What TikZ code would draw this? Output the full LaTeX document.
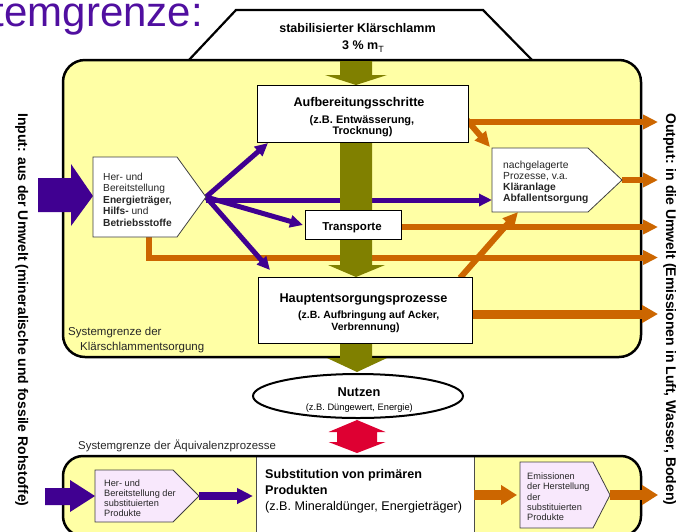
\documentclass[tikz,border=0pt]{standalone}
\usepackage{fontspec}
\setmainfont{Liberation Sans}
\usetikzlibrary{arrows.meta,calc,shapes.geometric}
\definecolor{purp}{RGB}{64,0,145}
\definecolor{titlep}{RGB}{80,15,160}
\definecolor{orng}{RGB}{204,102,0}
\definecolor{olv}{RGB}{128,128,0}
\definecolor{crim}{RGB}{222,0,50}
\definecolor{yel}{RGB}{255,255,165}
\definecolor{lav}{RGB}{248,232,252}
\newcommand\fs[2]{\fontsize{#1}{#2}\selectfont}
\tikzset{
  parr/.style={draw=purp, line width=5pt, -{Triangle[width=12pt,length=13pt]}},
  oarr/.style={draw=orng, line width=6pt, -{Triangle[width=14pt,length=15pt]}},
  procbox/.style={draw=black, line width=0.9pt, fill=white, inner sep=0, outer sep=0},
  pent/.style={draw=black!75, line width=0.8pt},
  txt/.style={inner sep=0, anchor=base},
  ltxt/.style={inner sep=0, anchor=base west},
  frame/.style={line width=2.5pt, draw=black},
}
\begin{document}
\begin{tikzpicture}[x=1pt,y=-1pt]
\useasboundingbox (0,0) rectangle (676,531);
\clip (0,0) rectangle (676,531);

% title (cut at the left edge, as in the reference)
\node[ltxt, anchor=base east, text=titlep, font=\fs{42}{46}] (title) at (203,26) {Systemgrenze:};

% trapezoid
\draw[line width=2.2pt, fill=white, line join=miter] (188,61) -- (236,10) -- (483,10) -- (533,61);

% main system box
\fill[yel, rounded corners=22pt] (63,60) rectangle (641,357);
\draw[frame, rounded corners=22pt] (63,60) rectangle (641,357);

% bottom box
\fill[yel, rounded corners=20pt] (63,456) rectangle (641,536);
\draw[draw=black!70, fill=white, line width=0.8pt] (256,456) rectangle (474,540);
\draw[frame, rounded corners=20pt] (63,456) rectangle (641,536);

% coordinates
\coordinate (ptip) at (206,197);
\coordinate (pbot) at (149,236);
\coordinate (ntip) at (622,180);

% orange output lines
\draw[oarr] (468,122) -- (658,122);
\draw[oarr] (466,119) -- (490,147);
\draw[oarr] (ntip) -- (658,180);
\draw[oarr] (401,227) -- (658,227);
\draw[oarr, line join=miter] (pbot) |- (658,257.5);
\draw[oarr] (460,278) -- (518,212);
\draw[draw=orng, line width=9pt, -{Triangle[width=17pt,length=16pt]}] (472,314) -- (658,314);

% purple input arrows
\fill[purp] (38,178) -- (71,178) -- (71,164) -- (93,196) -- (71,226) -- (71,212) -- (38,212) -- cycle;
\draw[parr] (ptip) -- (268,143);
\draw[parr] (206,200) -- (492,200);
\draw[parr] (ptip) -- (303,225);
\draw[parr] (ptip) -- (270,270);

% olive main flow
\fill[olv] (340,61) -- (340,75) -- (325,75) -- (356,85) -- (387,75) -- (372,75) -- (372,61) -- cycle;
\fill[olv] (340,142) -- (340,265) -- (328,265) -- (356,277) -- (385,265) -- (372,265) -- (372,142) -- cycle;
\fill[olv] (340,343) -- (340,358) -- (327,358) -- (357,372) -- (387,358) -- (372,358) -- (372,343) -- cycle;

% process boxes
\node[procbox, minimum width=211pt, minimum height=57pt] (aufb) at (362.5,113.5) {};
\node[procbox, minimum width=96pt, minimum height=29pt] (trans) at (353,224.5) {};
\node[procbox, minimum width=214pt, minimum height=66pt] (haupt) at (365,310) {};
\node[draw=black, line width=2pt, fill=white, ellipse, inner sep=0, minimum width=210pt, minimum height=44pt] (nutzen) at (358,396) {};

% pentagons
\draw[pent, fill=white] (93,157) -- (177,157) -- (206,197) -- (177,237) -- (93,237) -- cycle;
\draw[pent, fill=white] (492,148) -- (588,148) -- (622,180) -- (588,212) -- (492,212) -- cycle;
\draw[pent, fill=lav] (95,470) -- (173,470) -- (199,496) -- (173,522) -- (95,522) -- cycle;
\draw[pent, fill=lav] (520,462) -- (593,462) -- (610,495) -- (593,528) -- (520,528) -- cycle;

% red double arrow
\fill[crim] (357,420) -- (385.5,432) -- (377,432) -- (377,442) -- (385.5,442) -- (357,453) -- (328.5,442) -- (337,442) -- (337,432) -- (328.5,432) -- cycle;

% bottom arrows
\fill[purp] (45,488) -- (70,488) -- (70,480) -- (95,496) -- (70,512) -- (70,505) -- (45,505) -- cycle;
\draw[draw=purp, line width=8pt, -{Triangle[width=15pt,length=16pt]}] (199,496) -- (253,496);
\draw[draw=orng, line width=10pt, -{Triangle[width=19pt,length=16pt]}] (474,495) -- (517,495);
\draw[draw=orng, line width=10pt, -{Triangle[width=19pt,length=16pt]}] (610,495) -- (658,495);

% texts
\node[txt, font=\bfseries\fs{12.5}{14}] (t1) at (357.5,32.3) {stabilisierter Klärschlamm};
\node[txt, font=\bfseries\fs{12.5}{14}] (t2) at (363,49.3) {3 \% m{\mdseries\fs{9}{9}\raisebox{-3pt}{T}}};

\node[txt, font=\bfseries\fs{12.6}{14}] (a1) at (359,106.7) {Aufbereitungsschritte};
\node[txt, font=\bfseries\fs{11}{13}] (a2) at (362,123.3) {(z.B. Entwässerung,};
\node[txt, font=\bfseries\fs{11}{13}] (a3) at (362.5,134.5) {Trocknung)};

\node[txt, font=\bfseries\fs{11.5}{13}] (tr) at (352,230) {Transporte};

\node[txt, font=\bfseries\fs{12.7}{14}] (h1) at (363.5,302.7) {Hauptentsorgungsprozesse};
\node[txt, font=\bfseries\fs{10.5}{12}] (h2) at (368.8,318.3) {(z.B. Aufbringung auf Acker,};
\node[txt, font=\bfseries\fs{10.5}{12}] (h3) at (365.5,330.5) {Verbrennung)};

\node[txt, font=\bfseries\fs{12.8}{14}] (n1) at (359,396) {Nutzen};
\node[txt, font=\fs{9.3}{11}] (n2) at (359.3,410) {(z.B. Düngewert, Energie)};

\foreach \t [count=\i] in {{Her- und}, {Bereitstellung}, {\textbf{Energieträger,}}, {\textbf{Hilfs-} und}, {\textbf{Betriebsstoffe}}}
  \node[ltxt, font=\fs{10.2}{12}, text=black!85] (pa\i) at (103,{180+11.65*(\i-1)}) {\t};

\foreach \t [count=\i] in {{nachgelagerte}, {Prozesse, v.a.}, {\textbf{Kläranlage}}, {\textbf{Abfallentsorgung}}}
  \node[ltxt, font=\fs{10.3}{12}, text=black!85] (pn\i) at (503,{168.3+11.2*(\i-1)}) {\t};

\foreach \t [count=\i] in {{Her- und}, {Bereitstellung der}, {substituierten}, {Produkte}}
  \node[ltxt, font=\fs{9.2}{11}, text=black!85] (pb\i) at (104,{486+10.2*(\i-1)}) {\t};

\foreach \t [count=\i] in {{Emissionen}, {der Herstellung}, {der}, {substituierten}, {Produkte}}
  \node[ltxt, font=\fs{9.2}{11}, text=black!85] (pe\i) at (527,{479.3+10.35*(\i-1)}) {\t};

\node[ltxt, font=\bfseries\fs{12.6}{14}] (s1) at (265,478.3) {Substitution von primären};
\node[ltxt, font=\bfseries\fs{12.6}{14}] (s2) at (265,494) {Produkten};
\node[ltxt, font=\fs{12.6}{14}] (s3) at (265,510.7) {(z.B. Mineraldünger, Energieträger)};

\node[ltxt, font=\fs{11.4}{13}, text=black!85] (sg1) at (78,449.3) {Systemgrenze der Äquivalenzprozesse};
\node[ltxt, font=\fs{11.5}{13}, text=black!85] (sg2) at (68,335) {Systemgrenze der};
\node[ltxt, font=\fs{11.5}{13}, text=black!85] (sg3) at (80,350) {Klärschlammentsorgung};

\node[ltxt, rotate=-90, font=\bfseries\fs{14}{16}] (inp) at (18,113) {Input: aus der Umwelt (mineralische und fossile Rohstoffe)};
\node[ltxt, rotate=-90, font=\bfseries\fs{14}{16}] (outp) at (666,113) {Output: in die Umwelt (Emissionen in Luft, Wasser, Boden)};
\end{tikzpicture}
\end{document}
